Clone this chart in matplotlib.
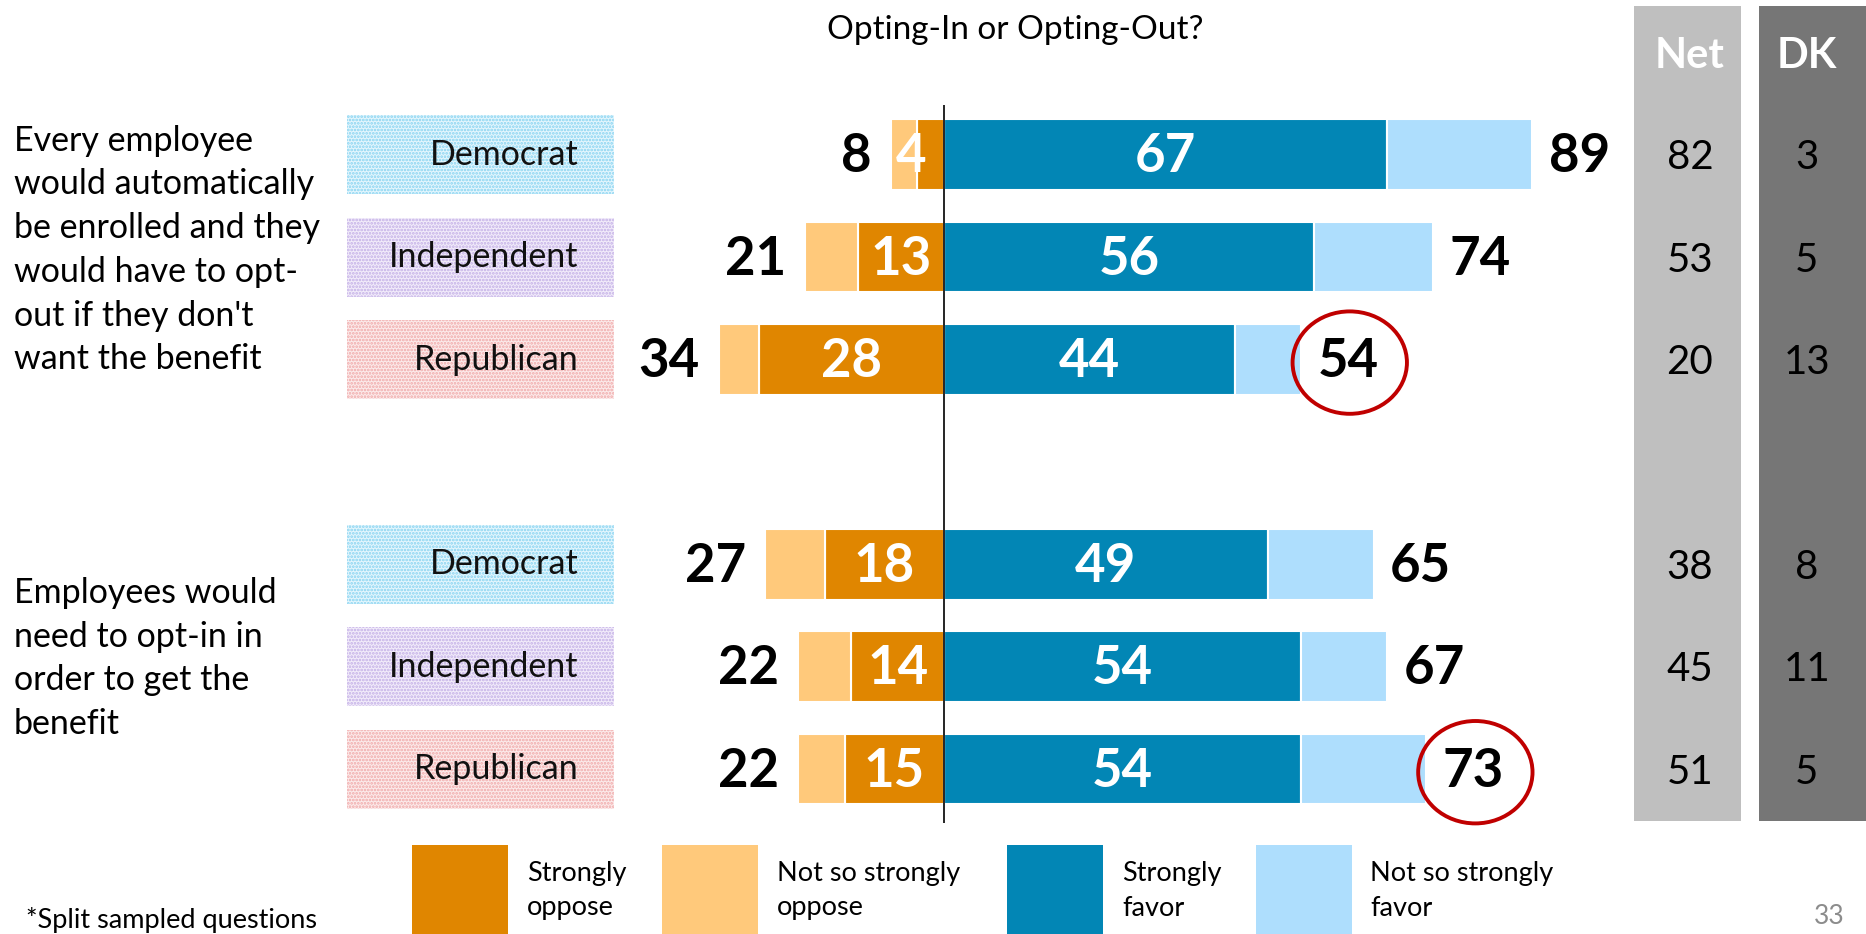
import matplotlib.pyplot as plt
from matplotlib.patches import Rectangle, Ellipse

# Datos de la encuesta por partido (porcentajes)
preguntas = ["Every employee\nwould automatically\nbe enrolled and they\nwould have to opt-\nout if they don't\nwant the benefit",
             "Employees would\nneed to opt-in in\norder to get the\nbenefit"]
partidos = ["Democrat", "Independent", "Republican", "Democrat", "Independent", "Republican"]
oposicion_fuerte = [4, 13, 28, 18, 14, 15]
oposicion_total = [8, 21, 34, 27, 22, 22]
favor_fuerte = [67, 56, 44, 49, 54, 54]
favor_total = [89, 74, 54, 65, 67, 73]
neto = [82, 53, 20, 38, 45, 51]
no_sabe = [3, 5, 13, 8, 11, 5]
resaltado = [False, False, True, False, False, True]

leyenda = ["Strongly\noppose", "Not so strongly\noppose", "Strongly\nfavor", "Not so strongly\nfavor"]

# Colores
NARANJA = "#E08600"
NARANJA_CLARO = "#FFC97B"
AZUL = "#0286B5"
AZUL_CLARO = "#AEDEFD"
colores_leyenda = [NARANJA, NARANJA_CLARO, AZUL, AZUL_CLARO]
tonos_partido = {"Democrat": ("#E4F6FD", "#86D3F1"),
                 "Independent": ("#F2ECFA", "#C2AEE6"),
                 "Republican": ("#FCEBEB", "#F0A8A8")}

plt.rcParams['font.family'] = ['Lato', 'DejaVu Sans']
plt.rcParams['hatch.linewidth'] = 1.3

W, H = 1866, 934
fx = lambda px: px / W
fy = lambda py: 1 - py / H

fig = plt.figure(figsize=(W / 100, H / 100), dpi=100)
ax = fig.add_axes([0, 0, 1, 1])
ax.set_xlim(-142.8, 139.5)
ax.set_ylim(7.61, -1.511)
ax.axis('off')

filas = [i if i < 3 else i + 1 for i in range(len(partidos))]
alto = 0.69

# Barras divergentes
ax.barh(filas, favor_fuerte, left=0, height=alto, color=AZUL, edgecolor='white', lw=1.5)
ax.barh(filas, [t - f for t, f in zip(favor_total, favor_fuerte)], left=favor_fuerte,
        height=alto, color=AZUL_CLARO, edgecolor='white', lw=1.5)
ax.barh(filas, [-o for o in oposicion_fuerte], left=0, height=alto, color=NARANJA,
        edgecolor='white', lw=1.5)
ax.barh(filas, [-(t - o) for t, o in zip(oposicion_total, oposicion_fuerte)],
        left=[-o for o in oposicion_fuerte], height=alto, color=NARANJA_CLARO,
        edgecolor='white', lw=1.5)
ax.vlines(0, -0.49, 6.53, color='black', lw=1.2, zorder=3)

tam_num = 38
for y, of, ot, ff, ft, circ, p in zip(filas, oposicion_fuerte, oposicion_total,
                                      favor_fuerte, favor_total, resaltado, partidos):
    yt = y + 0.02
    ax.text(ff / 2, yt, str(ff), color='white', fontsize=tam_num, fontweight='bold',
            ha='center', va='center')
    x_of = -of / 2 if of >= 10 else -ot / 2 - 1
    ax.text(x_of, yt, str(of), color='white', fontsize=tam_num, fontweight='bold',
            ha='center', va='center')
    ax.text(-ot - 2.9, yt, str(ot), color='black', fontsize=tam_num, fontweight='bold',
            ha='right', va='center')
    ax.text(ft + 2.5, yt, str(ft), color='black', fontsize=tam_num, fontweight='bold',
            ha='left', va='center')
    if circ:
        ax.add_patch(Ellipse((ft + 7.4, y + 0.03), 17.3, 1.0, fill=False,
                             edgecolor='#C00000', lw=2.8))
    # Etiqueta de partido con fondo punteado
    fondo, trama = tonos_partido[p]
    ax.add_patch(Rectangle((-90.3, y - 0.385), 40.4, 0.77, facecolor=fondo,
                           edgecolor=trama, hatch='.....', lw=0))
    ax.text(-55.3, y, p, fontsize=24.5, ha='right', va='center', color='#111111')

# Texto de las preguntas
ax.text(-140.7, 0.93, preguntas[0], fontsize=24.5, ha='left', va='center', linespacing=1.45)
ax.text(-140.7, 4.92, preguntas[1], fontsize=24.5, ha='left', va='center', linespacing=1.45)

# Título
fig.text(fx(1015), fy(30), "Opting-In or Opting-Out?", fontsize=24, ha='center', va='center')

# Columnas Net y DK
for x0, xc, color, titulo, valores in [(1634, 1690, '#BFBFBF', 'Net', neto),
                                       (1759, 1807, '#767676', 'DK', no_sabe)]:
    fig.patches.append(Rectangle((fx(x0), fy(821)), 107 / W, 815 / H, facecolor=color,
                                 transform=fig.transFigure, zorder=-1))
    fig.text(fx(xc), fy(56), titulo, color='white', fontsize=30, fontweight='bold',
             ha='center', va='center')
    for y, v in zip(filas, valores):
        ax.text((xc - 944) / 6.61, y + 0.03, str(v), fontsize=29, ha='center', va='center')

# Leyenda
for x_caja, color, etiqueta in zip([412, 662, 1007, 1255.5], colores_leyenda, leyenda):
    fig.patches.append(Rectangle((fx(x_caja), 0), 96 / W, 89 / H, facecolor=color,
                                 transform=fig.transFigure))
    fig.text(fx(x_caja + 115), fy(891), etiqueta, fontsize=19.5, ha='left', va='center',
             linespacing=1.45)

fig.text(fx(26), fy(920), "*Split sampled questions", fontsize=19.5, ha='left', va='center')
fig.text(fx(1829), fy(916), "33", fontsize=19, color='#8C8C8C', ha='center', va='center')

fig.savefig("out.png", dpi=100)
